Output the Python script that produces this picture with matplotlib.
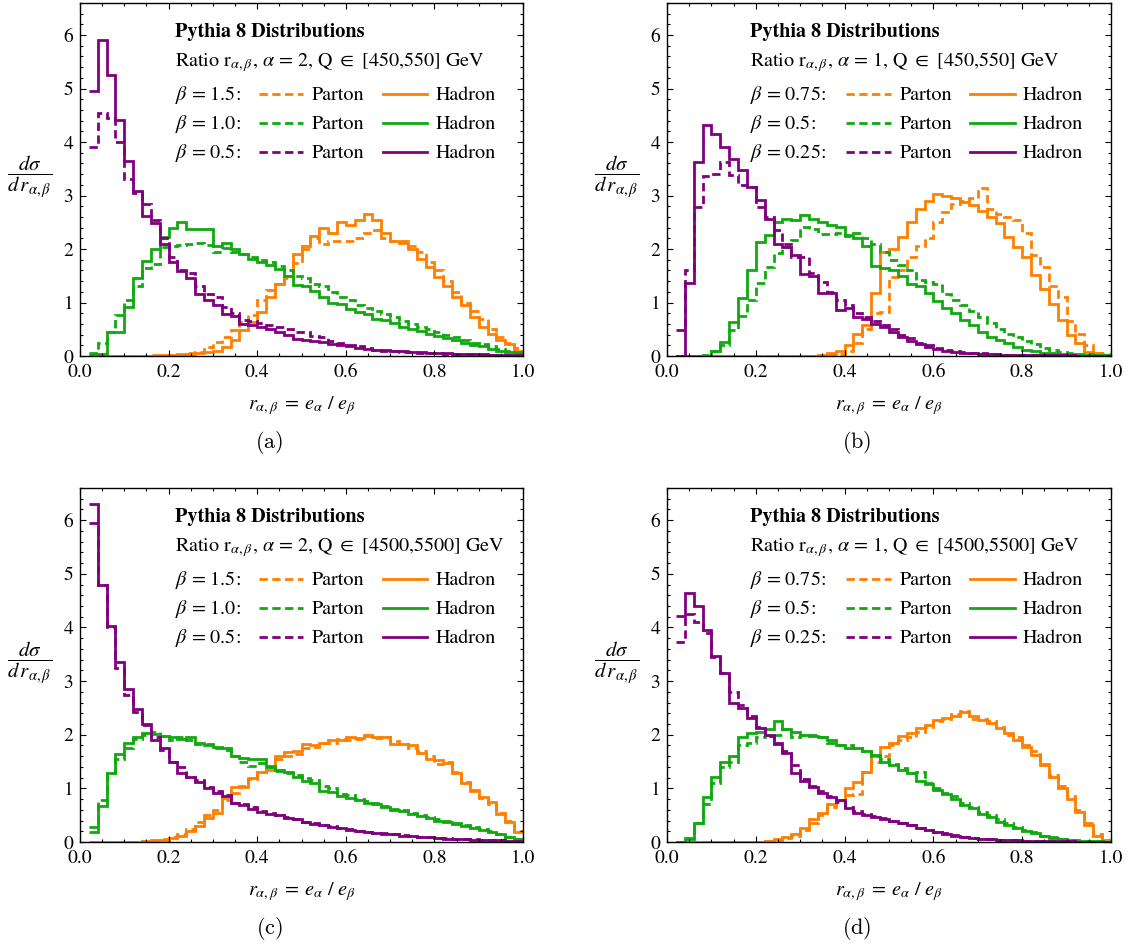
import numpy as np
import matplotlib
matplotlib.use("Agg")
import matplotlib.pyplot as plt
from matplotlib.ticker import MultipleLocator, FormatStrFormatter

plt.rcParams["font.family"] = ["STIXGeneral", "DejaVu Serif"]
plt.rcParams["mathtext.fontset"] = "stix"

# histogram bins of width 0.02, first bin starts at r = 0.02
bin_edges = np.round(np.linspace(0.02, 1.0, 50), 2)

# (a) alpha = 2, Q in [450,550] GeV
a_hadron_15 = [0, 0, 0, 0, 0, 0, 0, 0, 0.01,
               0.01, 0.02, 0.03, 0.05, 0.07,
               0.1, 0.17, 0.3, 0.49, 0.64, 0.83, 1.1, 1.35, 1.5, 1.9,
               2.05, 2.25, 2.4, 2.3, 2.5, 2.45, 2.55, 2.65, 2.55, 2.3,
               2.15, 2.12, 2.0, 1.82, 1.67, 1.48, 1.3, 1.1, 0.95, 0.73,
               0.55, 0.42, 0.3, 0.22, 0.1]
a_parton_15 = [0, 0, 0, 0, 0, 0, 0, 0.01, 0.01, 0.02,
               0.03, 0.05, 0.08, 0.17, 0.27, 0.35, 0.49, 0.64, 0.76, 1.04,
               1.23, 1.35, 1.45, 1.73, 2.0, 2.2, 2.1, 2.15, 2.15, 2.15,
               2.2, 2.3, 2.35, 2.2, 2.15, 2.15, 2.05, 1.95, 1.75, 1.6,
               1.4, 1.2, 1.0, 0.85, 0.7, 0.5, 0.35, 0.25, 0.15]
a_hadron_10 = [0.03, 0.03, 0.45, 0.45, 0.92, 1.45, 1.78, 2.0, 2.22, 2.4,
               2.5, 2.38, 2.38, 2.38, 2.05, 2.12, 2.0, 1.9, 1.82, 1.75,
               1.7, 1.62, 1.5, 1.32, 1.3, 1.22, 1.1, 1.0, 0.97, 0.88,
               0.82, 0.78, 0.7, 0.67, 0.62, 0.55, 0.5, 0.47, 0.42, 0.38,
               0.33, 0.3, 0.25, 0.2, 0.18, 0.14, 0.1, 0.08, 0.05]
a_parton_10 = [0.06, 0.24, 0.45, 0.76, 1.05, 1.3, 1.65, 1.72, 2.03, 2.05,
               2.07, 2.1, 2.12, 2.08, 1.95, 2.02, 1.95, 1.9, 1.85, 1.8,
               1.75, 1.68, 1.6, 1.5, 1.45, 1.35, 1.3, 1.2, 1.1, 1.05,
               0.95, 0.9, 0.85, 0.78, 0.72, 0.65, 0.6, 0.55, 0.5, 0.45,
               0.4, 0.35, 0.3, 0.25, 0.22, 0.18, 0.14, 0.1, 0.07]
a_hadron_05 = [4.95, 5.9, 5.25, 4.42, 3.65, 3.08, 2.62, 2.48, 2.1, 1.75,
               1.58, 1.45, 1.15, 1.05, 0.95, 0.78, 0.75, 0.6, 0.58, 0.55,
               0.5, 0.45, 0.4, 0.32, 0.3, 0.28, 0.26, 0.22, 0.2, 0.18,
               0.15, 0.14, 0.12, 0.11, 0.1, 0.09, 0.08, 0.07, 0.06, 0.05,
               0.05, 0.04, 0.04, 0.03, 0.03, 0.02, 0.02, 0.01, 0.01]
a_parton_05 = [3.9, 4.55, 4.45, 4.0, 3.3, 3.05, 2.85, 2.55, 2.2, 1.85,
               1.6, 1.55, 1.3, 1.15, 1.1, 0.92, 0.8, 0.68, 0.66, 0.62,
               0.58, 0.55, 0.5, 0.45, 0.45, 0.38, 0.35, 0.28, 0.25, 0.2,
               0.18, 0.15, 0.12, 0.1, 0.09, 0.08, 0.07, 0.06, 0.05, 0.05,
               0.04, 0.04, 0.03, 0.03, 0.02, 0.02, 0.01, 0.01, 0.01]

# (b) alpha = 1, Q in [450,550] GeV
b_hadron_075 = [0, 0, 0, 0, 0, 0, 0, 0, 0, 0,
                0, 0, 0, 0, 0, 0, 0.02, 0.05, 0.1, 0.2,
                0.42, 0.58, 1.18, 1.95, 2.0, 2.23, 2.5, 2.75, 2.9, 3.03,
                3.0, 2.95, 2.88, 2.82, 2.72, 2.6, 2.48, 2.23, 2.04, 1.85,
                1.51, 1.26, 0.98, 0.67, 0.39, 0.24, 0.08, 0.05, 0.02]
b_parton_075 = [0, 0, 0, 0, 0, 0, 0, 0, 0, 0,
                0, 0, 0, 0, 0, 0, 0, 0.01, 0.03, 0.1,
                0.25, 0.5, 0.8, 0.82, 1.48, 1.6, 1.85, 2.05, 2.2, 2.5,
                2.7, 2.85, 2.9, 2.95, 3.15, 2.75, 2.65, 2.6, 2.55, 2.3,
                1.88, 1.67, 1.3, 1.1, 0.65, 0.42, 0.2, 0.06, 0.03]
b_hadron_05 = [0, 0, 0, 0, 0.1, 0.27, 0.64, 1.08, 1.6, 2.13,
               2.26, 2.5, 2.57, 2.55, 2.63, 2.57, 2.5, 2.45, 2.41, 2.26,
               2.2, 2.05, 1.68, 1.64, 1.6, 1.5, 1.35, 1.3, 1.18, 1.02,
               0.89, 0.8, 0.67, 0.58, 0.45, 0.36, 0.3, 0.24, 0.17, 0.12,
               0.1, 0.06, 0.05, 0.04, 0.03, 0.02, 0.02, 0.01, 0.01]
b_parton_05 = [0, 0, 0, 0.01, 0.1, 0.2, 0.48, 0.75, 1.04, 1.36,
               1.67, 1.92, 2.04, 2.16, 2.41, 2.38, 2.29, 2.29, 2.3, 2.25,
               2.3, 2.2, 2.1, 1.95, 1.8, 1.7, 1.6, 1.42, 1.38, 1.35,
               1.15, 1.05, 0.95, 0.85, 0.72, 0.62, 0.5, 0.42, 0.35, 0.28,
               0.22, 0.15, 0.12, 0.08, 0.06, 0.04, 0.03, 0.02, 0.01]
b_hadron_025 = [0.0, 1.36, 3.63, 4.31, 4.15, 3.9, 3.69, 3.47, 3.16, 2.91,
                2.57, 2.1, 2.04, 1.88, 1.54, 1.5, 1.17, 1.17, 0.86, 0.89,
                0.73, 0.7, 0.6, 0.55, 0.45, 0.35, 0.28, 0.22, 0.17, 0.13,
                0.1, 0.08, 0.06, 0.05, 0.04, 0.03, 0.02, 0.02, 0.01, 0.01,
                0.01, 0.01, 0.01, 0.01, 0, 0, 0, 0, 0]
b_parton_025 = [0.48, 1.6, 2.79, 3.36, 3.41, 3.63, 3.38, 3.19, 3.16, 2.79,
                2.6, 2.35, 2.1, 1.85, 1.85, 1.55, 1.39, 1.2, 1.04, 0.95,
                0.8, 0.72, 0.65, 0.58, 0.5, 0.4, 0.33, 0.25, 0.2, 0.15,
                0.12, 0.1, 0.08, 0.06, 0.05, 0.04, 0.03, 0.02, 0.02, 0.01,
                0.01, 0.01, 0.01, 0.01, 0.01, 0, 0, 0, 0]

# (c) alpha = 2, Q in [4500,5500] GeV
c_hadron_15 = [0, 0, 0, 0, 0, 0, 0.01, 0.02, 0.04, 0.08,
               0.12, 0.2, 0.3, 0.45, 0.55, 0.82, 1.02, 1.03, 1.2, 1.3,
               1.35, 1.6, 1.68, 1.7, 1.82, 1.8, 1.84, 1.9, 1.9, 1.96,
               1.94, 2.0, 1.95, 1.95, 1.82, 1.82, 1.8, 1.66, 1.55, 1.53,
               1.48, 1.28, 1.1, 0.97, 0.84, 0.74, 0.53, 0.38, 0.18]
c_parton_15 = [0, 0, 0, 0, 0, 0, 0.01, 0.03, 0.06, 0.1,
               0.15, 0.25, 0.38, 0.5, 0.6, 0.78, 0.92, 1.05, 1.18, 1.3,
               1.4, 1.55, 1.6, 1.65, 1.75, 1.78, 1.85, 1.85, 1.92, 1.9,
               1.92, 1.98, 1.93, 1.96, 1.88, 1.82, 1.75, 1.7, 1.6, 1.45,
               1.5, 1.3, 1.12, 0.95, 0.82, 0.7, 0.55, 0.4, 0.2]
c_hadron_10 = [0.18, 0.68, 1.28, 1.65, 1.85, 1.95, 2.04, 2.02, 1.98, 1.96,
               1.92, 1.95, 1.84, 1.8, 1.78, 1.75, 1.6, 1.56, 1.54, 1.54,
               1.4, 1.34, 1.3, 1.22, 1.13, 1.1, 0.95, 0.93, 0.85, 0.82,
               0.78, 0.73, 0.7, 0.66, 0.6, 0.57, 0.52, 0.48, 0.45, 0.4,
               0.38, 0.34, 0.3, 0.27, 0.22, 0.18, 0.14, 0.09, 0.05]
c_parton_10 = [0.28, 0.78, 1.28, 1.55, 1.75, 1.92, 2.0, 2.05, 1.98, 1.9,
               1.95, 1.9, 1.82, 1.82, 1.75, 1.72, 1.6, 1.5, 1.42, 1.48,
               1.42, 1.32, 1.28, 1.25, 1.2, 1.15, 1.05, 1.0, 0.9, 0.88,
               0.8, 0.76, 0.72, 0.68, 0.62, 0.6, 0.55, 0.5, 0.46, 0.42,
               0.4, 0.36, 0.32, 0.28, 0.24, 0.2, 0.15, 0.1, 0.06]
c_hadron_05 = [6.3, 4.8, 4.02, 3.35, 2.85, 2.48, 2.2, 1.9, 1.75, 1.5,
               1.28, 1.22, 1.12, 1.0, 0.92, 0.85, 0.72, 0.69, 0.62, 0.56,
               0.53, 0.5, 0.44, 0.42, 0.38, 0.34, 0.32, 0.28, 0.26, 0.23,
               0.21, 0.19, 0.17, 0.15, 0.14, 0.12, 0.11, 0.1, 0.09, 0.07,
               0.06, 0.06, 0.05, 0.04, 0.04, 0.03, 0.03, 0.02, 0.02]
c_parton_05 = [5.95, 4.8, 4.0, 3.25, 2.75, 2.42, 2.18, 1.95, 1.72, 1.5,
               1.4, 1.22, 1.15, 1.02, 0.95, 0.88, 0.72, 0.7, 0.65, 0.58,
               0.55, 0.5, 0.46, 0.42, 0.38, 0.35, 0.32, 0.29, 0.26, 0.24,
               0.21, 0.19, 0.17, 0.16, 0.14, 0.13, 0.11, 0.1, 0.09, 0.08,
               0.07, 0.06, 0.05, 0.05, 0.04, 0.03, 0.03, 0.02, 0.02]

# (d) alpha = 1, Q in [4500,5500] GeV
d_hadron_075 = [0, 0, 0, 0, 0, 0, 0, 0, 0, 0,
                0.02, 0.05, 0.1, 0.15, 0.27, 0.42, 0.55, 0.7, 0.78, 1.0,
                1.12, 1.3, 1.6, 1.78, 1.84, 1.97, 2.03, 2.12, 2.19, 2.28,
                2.31, 2.34, 2.42, 2.34, 2.28, 2.22, 2.12, 2.03, 1.9, 1.78,
                1.62, 1.44, 1.22, 1.0, 0.81, 0.56, 0.31, 0.12, 0.03]
d_parton_075 = [0, 0, 0, 0, 0, 0, 0, 0, 0, 0,
                0.01, 0.03, 0.07, 0.12, 0.22, 0.35, 0.5, 0.65, 0.78, 0.87,
                0.9, 1.3, 1.5, 1.6, 1.8, 1.9, 1.95, 2.05, 2.15, 2.25,
                2.3, 2.38, 2.45, 2.3, 2.3, 2.25, 2.15, 2.0, 1.95, 1.8,
                1.7, 1.45, 1.25, 1.05, 0.85, 0.6, 0.35, 0.14, 0.04]
d_hadron_05 = [0, 0.06, 0.35, 0.84, 1.22, 1.5, 1.6, 1.95, 2.03, 2.06,
               2.1, 2.25, 2.1, 2.05, 2.0, 1.98, 1.95, 1.9, 1.8, 1.75,
               1.75, 1.69, 1.62, 1.5, 1.44, 1.34, 1.28, 1.13, 1.08, 0.97,
               0.9, 0.81, 0.69, 0.63, 0.53, 0.47, 0.38, 0.31, 0.27, 0.2,
               0.16, 0.11, 0.07, 0.05, 0.03, 0.02, 0.01, 0.01, 0.0]
d_parton_05 = [0, 0.08, 0.35, 0.7, 1.1, 1.4, 1.5, 1.8, 1.85, 1.95,
               2.0, 2.0, 2.1, 1.95, 2.0, 2.0, 1.95, 1.85, 1.8, 1.8,
               1.75, 1.7, 1.6, 1.55, 1.45, 1.38, 1.28, 1.3, 1.1, 1.0,
               0.92, 0.85, 0.72, 0.65, 0.56, 0.5, 0.42, 0.35, 0.28, 0.22,
               0.18, 0.12, 0.09, 0.06, 0.04, 0.03, 0.02, 0.01, 0.01]
d_hadron_025 = [4.22, 4.65, 4.4, 3.95, 3.47, 3.15, 2.6, 2.5, 2.31, 2.13,
                2.0, 1.84, 1.66, 1.28, 1.13, 1.03, 0.91, 0.84, 0.78, 0.63,
                0.55, 0.5, 0.47, 0.43, 0.39, 0.35, 0.31, 0.26, 0.22, 0.18,
                0.15, 0.12, 0.09, 0.07, 0.06, 0.05, 0.04, 0.03, 0.03, 0.02,
                0.02, 0.01, 0.01, 0.01, 0.01, 0, 0, 0, 0]
d_parton_025 = [3.72, 4.25, 4.1, 3.9, 3.44, 3.15, 2.8, 2.55, 2.35, 2.15,
                1.98, 1.82, 1.7, 1.44, 1.18, 1.05, 0.95, 0.85, 0.75, 0.65,
                0.58, 0.52, 0.48, 0.44, 0.4, 0.36, 0.32, 0.27, 0.23, 0.19,
                0.16, 0.13, 0.1, 0.08, 0.06, 0.05, 0.04, 0.03, 0.03, 0.02,
                0.02, 0.01, 0.01, 0.01, 0.01, 0, 0, 0, 0]

alphas = ["2", "1", "2", "1"]
q_ranges = ["[450,550]", "[450,550]", "[4500,5500]", "[4500,5500]"]
beta_labels = [["1.5", "1.0", "0.5"], ["0.75", "0.5", "0.25"],
               ["1.5", "1.0", "0.5"], ["0.75", "0.5", "0.25"]]
captions = ["(a)", "(b)", "(c)", "(d)"]
curves = [
    [(a_parton_15, a_hadron_15), (a_parton_10, a_hadron_10), (a_parton_05, a_hadron_05)],
    [(b_parton_075, b_hadron_075), (b_parton_05, b_hadron_05), (b_parton_025, b_hadron_025)],
    [(c_parton_15, c_hadron_15), (c_parton_10, c_hadron_10), (c_parton_05, c_hadron_05)],
    [(d_parton_075, d_hadron_075), (d_parton_05, d_hadron_05), (d_parton_025, d_hadron_025)],
]

colors = ["#ff8000", "#10aa10", "#800080"]
DASH = (0, (3.0, 1.6))
LW = 2.0
FS = 14.5

W, H = 1129, 947
# axes boxes in pixels: left, top, width, height
boxes = [(80, 3, 443, 353), (667, 3, 444, 353),
         (80, 488, 443, 354), (667, 488, 444, 354)]
text_x = [0.214, 0.188, 0.214, 0.188]


def draw_panel(ax, i):
    for (parton, hadron), c in zip(curves[i], colors):
        ax.stairs(parton, bin_edges, baseline=None, color=c, lw=LW, linestyle=DASH)
        ax.stairs(hadron, bin_edges, baseline=None, color=c, lw=LW)

    ax.set_xlim(0, 1)
    ax.set_ylim(0, 6.6)
    ax.xaxis.set_major_locator(MultipleLocator(0.2))
    ax.xaxis.set_minor_locator(MultipleLocator(0.05))
    ax.xaxis.set_major_formatter(FormatStrFormatter("%.1f"))
    ax.yaxis.set_major_locator(MultipleLocator(1))
    ax.yaxis.set_minor_locator(MultipleLocator(0.2))
    ax.tick_params(which="both", direction="in", top=True, right=True,
                   labelsize=14, width=0.8)
    ax.tick_params(which="major", length=4)
    ax.tick_params(which="minor", length=2.3)
    ax.tick_params(axis="y", pad=5)
    ax.tick_params(axis="x", pad=6)
    for s in ax.spines.values():
        s.set_linewidth(1.0)

    tx = text_x[i]
    ax.text(tx, 0.903, "Pythia 8 Distributions", transform=ax.transAxes,
            fontsize=FS, fontweight="bold", va="baseline")
    ax.text(tx, 0.820,
            r"Ratio $\mathrm{r}_{\alpha,\beta}$, $\alpha$ = %s, Q $\in$ %s GeV"
            % (alphas[i], q_ranges[i]),
            transform=ax.transAxes, fontsize=FS, va="baseline")
    for j, (b, c) in enumerate(zip(beta_labels[i], colors)):
        yl = 0.742 - 0.082 * j
        ax.text(tx, yl - 0.017, r"$\beta$ = %s:" % b, transform=ax.transAxes,
                fontsize=FS, va="baseline")
        ax.plot([0.403, 0.504], [yl, yl], transform=ax.transAxes, color=c,
                lw=LW, linestyle=DASH, clip_on=False)
        ax.text(0.523, yl - 0.017, "Parton", transform=ax.transAxes,
                fontsize=FS, va="baseline")
        ax.plot([0.683, 0.784], [yl, yl], transform=ax.transAxes, color=c,
                lw=LW, clip_on=False)
        ax.text(0.802, yl - 0.017, "Hadron", transform=ax.transAxes,
                fontsize=FS, va="baseline")

    ax.text(-0.113, 0.507, r"$\dfrac{d\sigma}{d\,r_{\alpha,\beta}}$",
            transform=ax.transAxes, fontsize=15, ha="center", va="center")
    ax.text(0.5, -0.139, r"$r_{\alpha,\beta}\;=\;e_\alpha\ /\ e_\beta$",
            transform=ax.transAxes, fontsize=FS, ha="center", va="center")
    ax.text(0.428, -0.245, r"$\mathrm{%s}$" % captions[i], math_fontfamily="cm",
            transform=ax.transAxes, fontsize=16, ha="center", va="center")


fig = plt.figure(figsize=(W / 100, H / 100), dpi=100)
for i, (l, t, w, h) in enumerate(boxes):
    ax = fig.add_axes([l / W, 1 - (t + h) / H, w / W, h / H])
    draw_panel(ax, i)

fig.savefig("out.png", dpi=100)
